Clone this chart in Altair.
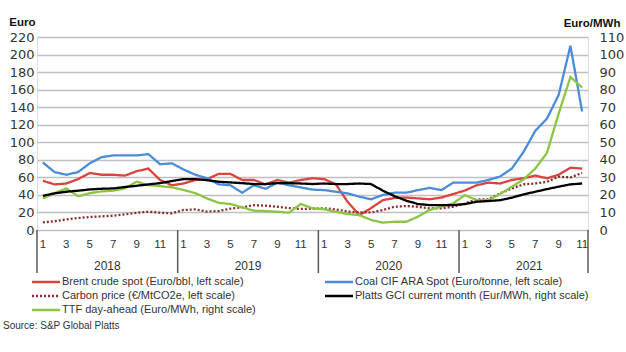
import altair as alt
import pandas as pd

# ---- data (monthly, Jan 2018 - Nov 2021) ----
brent = [56, 52, 53, 58, 65, 63, 63, 62, 67, 70, 57, 51,
         53, 57, 58, 64, 64, 57, 57, 52, 57, 54, 57, 59,
         58, 52, 32, 17, 25, 34, 36.5, 37, 36, 35, 37, 41,
         45, 51, 54, 53, 57, 59, 62, 59, 63, 71, 70]
coal = [77, 66, 63, 66, 76, 83, 85, 85, 85, 86.5, 75, 76,
        69, 63, 59, 52, 51, 42.5, 51, 47, 54, 51, 48.5, 46,
        45.5, 43.6, 41.7, 38, 35, 40, 42.5, 42.5, 45.5, 48, 45.5, 54,
        54, 54, 57, 61, 70, 89, 113, 127, 154, 210, 135]
carbon = [8.7, 10, 12, 13.7, 14.8, 15.5, 16.3, 17.8, 19.7, 20.9, 19.7, 19,
          22.8, 23.5, 21, 21.6, 24.3, 25.8, 28.4, 27.7, 26.5, 25, 24, 24.3,
          24.7, 23.5, 21, 20, 20, 22.8, 26.5, 27.3, 26.5, 24.7, 24.7, 26.5,
          30, 35, 35, 41.7, 47.4, 52, 53, 55, 60.7, 60, 65]
platts = [19.5, 20.9, 21.8, 22.4, 23.1, 23.5, 23.7, 24.5, 25.2, 26, 26.7, 27.9,
          29, 29, 28.4, 27.5, 27.1, 26.7, 26.2, 26.2, 26.7, 26.7, 26.5, 26.2,
          26.5, 26.2, 26.2, 26.5, 26.2, 22.4, 19.3, 16.7, 14.8, 14.2, 14.2, 14.2,
          14.8, 16.1, 16.5, 17, 18.4, 20.3, 21.8, 23.3, 24.7, 26, 26.5]
ttf = [18, 21, 23.7, 19.3, 21, 22, 22.4, 23.7, 27.5, 25.6, 25, 24.3,
       22.8, 21, 18, 15.5, 14.8, 12.9, 11, 10.8, 10.4, 9.9, 14.8, 12.4,
       11.8, 10.4, 9.1, 8.5, 5.7, 4.2, 4.7, 4.7, 7.6, 11.4, 13.3, 15.2,
       19.9, 17, 17, 20.5, 24.7, 28.8, 35, 44, 66.4, 87.2, 81.2]

# legend is filled column by column: left column first, then right column
series_names = [
    "Brent crude spot (Euro/bbl, left scale)",
    "Carbon price (€/MtCO2e, left scale)",
    "TTF day-ahead (Euro/MWh, right scale)",
    "Coal CIF ARA Spot (Euro/tonne, left scale)",
    "Platts GCI current month (Eur/MWh, right scale)",
]
series_side = ["L", "L", "R", "L", "R"]
series_values = [brent, carbon, ttf, coal, platts]
colors = ["#D9443F", "#8B2B2B", "#8CC443", "#4A8DD6", "#000000"]
dashes = [[1, 0], [2, 2], [1, 0], [1, 0], [1, 0]]

years = ["2018", "2019", "2020", "2021"]
year_label_pos = [6, 18, 30, 42]
year_bounds = [0, 12, 24, 36, 47]
month_labels = ["1", "3", "5", "7", "9", "11"]
left_ticks = list(range(0, 221, 20))
right_ticks = list(range(0, 111, 10))
source_text = "Source: S&P Global Platts"

rows = []
for name, side, vals in zip(series_names, series_side, series_values):
    for i, v in enumerate(vals):
        rows.append({"series": name, "side": side, "t": i + 0.5, "v": v})
df = pd.DataFrame(rows)

mrows = []
for k in range(len(years)):
    for j, m in enumerate(month_labels):
        p = k * 12 + j * 2 + 0.5
        if p < year_bounds[-1]:
            mrows.append({"m": m, "pos": p})
months_df = pd.DataFrame(mrows)

W, H = 551, 193
xscale = alt.Scale(domain=[0, 47], nice=False, zero=False)
GRID = "#BFBFBF"
AXC = "#595959"
TXT = "#333333"

legend = alt.Legend(
    orient="none", legendX=3, legendY=239, columns=2, columnPadding=64,
    rowPadding=3, symbolType="M-3,0H3", symbolSize=87, symbolStrokeWidth=2.5,
    labelFont="Liberation Sans", labelFontSize=11, labelColor=TXT,
    labelLimit=400, labelOffset=10, title=None, padding=0,
)

base = alt.Chart(df).mark_line(strokeWidth=2.3, interpolate="linear").encode(
    x=alt.X("t:Q", scale=xscale, axis=alt.Axis(
        labels=False, ticks=False, grid=False, domainColor=AXC, domainWidth=1.5,
        title=None)),
    color=alt.Color("series:N", scale=alt.Scale(domain=series_names, range=colors), legend=legend),
    strokeDash=alt.StrokeDash("series:N", scale=alt.Scale(domain=series_names, range=dashes), legend=legend),
    order=alt.Order("t:Q"),
)

left = base.transform_filter(alt.datum.side == "L").encode(
    y=alt.Y("v:Q", scale=alt.Scale(domain=[0, 220], nice=False), axis=alt.Axis(
        values=left_ticks, domain=False, ticks=False, grid=True, gridColor=GRID, gridWidth=1.5,
        labelFont="DejaVu Sans", labelFontSize=13, labelColor=TXT, labelPadding=3,
        title="Euro", titleAngle=0, titleX=-2, titleY=-12, titleAlign="right",
        titleBaseline="alphabetic", titleFont="Liberation Sans", titleFontSize=11.5,
        titleFontWeight="bold", titleColor="#111"))
)
right = base.transform_filter(alt.datum.side == "R").encode(
    y=alt.Y("v:Q", scale=alt.Scale(domain=[0, 110], nice=False), axis=alt.Axis(
        orient="right", values=right_ticks, domain=False, ticks=False, grid=False,
        labelFont="DejaVu Sans", labelFontSize=13, labelColor=TXT, labelPadding=11,
        title="Euro/MWh", titleAngle=0, titleX=32, titleY=-11, titleAlign="right",
        titleBaseline="alphabetic", titleFont="Liberation Sans", titleFontSize=11.5,
        titleFontWeight="bold", titleColor="#111"))
)

bounds_df = pd.DataFrame({"pos": year_bounds})
dividers = alt.Chart(bounds_df).mark_rule(color=AXC, strokeWidth=1.5).encode(
    x=alt.X("pos:Q", scale=xscale, axis=None),
    y=alt.value(H), y2=alt.value(H + 43),
)

month_text = alt.Chart(months_df).mark_text(
    font="Liberation Sans", fontSize=11.5, color=TXT, baseline="middle", align="center"
).encode(
    x=alt.X("pos:Q", scale=xscale, axis=None),
    y=alt.value(H + 15), text="m:N",
)

years_df = pd.DataFrame({"year": years, "pos": year_label_pos})
year_text = alt.Chart(years_df).mark_text(
    font="Liberation Sans", fontSize=12, color=TXT, baseline="middle", align="center"
).encode(
    x=alt.X("pos:Q", scale=xscale, axis=None),
    y=alt.value(H + 36), text="year:N",
)

src_df = pd.DataFrame({"s": [source_text]})
source = alt.Chart(src_df).mark_text(
    font="Liberation Sans", fontSize=10, color=TXT, align="left", baseline="middle"
).encode(x=alt.value(-34), y=alt.value(289), text="s:N")

chart = alt.layer(left, right, dividers, month_text, year_text, source).resolve_scale(
    y="independent"
).properties(
    width=W, height=H,
    autosize=alt.AutoSizeParams(type="none"),
    padding={"left": 37, "top": 37, "right": 38, "bottom": 122},
).configure_view(stroke=None).configure(background="white")

chart.save("out.html", embed_options={"renderer": "svg", "actions": False})
